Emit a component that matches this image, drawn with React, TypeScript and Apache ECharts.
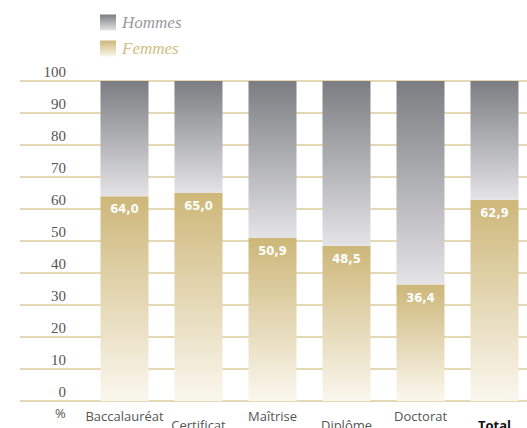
import React, { useEffect, useRef } from "react";
import * as echarts from "echarts";

const categories = ["Baccalauréat", "Certificat", "Maîtrise", "Diplôme", "Doctorat", "Total"];
const femmes = [64.0, 65.0, 50.9, 48.5, 36.4, 62.9];
const hommes = femmes.map((v) => +(100 - v).toFixed(1));
const yTicks = [0, 10, 20, 30, 40, 50, 60, 70, 80, 90, 100];

const hommesGrad = new echarts.graphic.LinearGradient(0, 0, 0, 1, [
  { offset: 0, color: "#7c7d82" },
  { offset: 1, color: "#e4e4e7" },
]);
const femmesGrad = new echarts.graphic.LinearGradient(0, 0, 0, 1, [
  { offset: 0, color: "#cdb779" },
  { offset: 1, color: "#faf7ee" },
]);

export default function App() {
  const ref = useRef<HTMLDivElement>(null);
  useEffect(() => {
    if (!ref.current) return;
    const chart = echarts.init(ref.current, null, { renderer: "svg" });
    chart.setOption({
      animation: false,
      legend: {
        orient: "vertical",
        left: 95,
        top: 9,
        itemWidth: 16,
        itemHeight: 16,
        itemGap: 9,
        icon: "rect",
        data: [
          { name: "Hommes", textStyle: { color: "#9a9a9e" } },
          { name: "Femmes", textStyle: { color: "#d2bd83" } },
        ],
        textStyle: {
          fontFamily: "Liberation Serif",
          fontStyle: "italic",
          fontSize: 17,
          padding: [0, 0, 0, 1],
        },
      },
      grid: [
        { left: 20, right: 0, top: 81, bottom: 27, outerBoundsMode: "none", containLabel: false },
        { left: 87.5, right: -4.5, top: 81, bottom: 27, outerBoundsMode: "none", containLabel: false },
      ],
      xAxis: [
        { type: "value", gridIndex: 0, show: false, min: 0, max: 1 },
        {
          type: "category",
          gridIndex: 1,
          data: categories,
          axisLine: { show: false },
          axisTick: { show: false },
          axisLabel: {
            interval: 0,
            margin: 8,
            formatter: (v: string, i: number) =>
              v === "Total" ? `{t|${v}}` : i % 2 === 1 ? `{b|${v}}` : `{a|${v}}`,
            rich: {
              a: { fontFamily: "Open Sans", fontSize: 13, color: "#555", padding: [0, 0, 0, 0] },
              b: { fontFamily: "Open Sans", fontSize: 13, color: "#555", padding: [9, 0, 0, 0] },
              t: { fontFamily: "Open Sans", fontSize: 13, fontWeight: "bold", color: "#111", padding: [9, 0, 0, 0] },
            },
          },
        },
      ],
      yAxis: [
        {
          type: "value",
          gridIndex: 0,
          min: yTicks[0],
          max: yTicks[yTicks.length - 1],
          interval: 10,
          axisLine: { show: false },
          axisTick: { show: false },
          splitLine: { lineStyle: { color: "#e4d9b4", width: 2 } },
          axisLabel: {
            inside: true,
            align: "right",
            margin: 46,
            verticalAlign: "bottom",
            padding: [0, 0, 2, 0],
            fontFamily: "Liberation Serif",
            fontSize: 15,
            color: "#555",
          },
        },
        {
          type: "value",
          gridIndex: 1,
          min: 0,
          max: 100,
          interval: 10,
          show: false,
        },
      ],
      graphic: [
        {
          type: "text",
          left: 55,
          top: 406,
          style: { text: "%", fontFamily: "Open Sans", fontSize: 13, fill: "#555" },
        },
      ],
      series: [
        {
          name: "Femmes",
          type: "bar",
          stack: "s",
          xAxisIndex: 1,
          yAxisIndex: 1,
          data: femmes,
          barWidth: 48,
          itemStyle: { color: femmesGrad },
          label: {
            show: true,
            position: "insideTop",
            distance: 7,
            formatter: (p: any) => p.value.toFixed(1).replace(".", ","),
            color: "#fff",
            fontFamily: "DejaVu Sans",
            fontWeight: "bold",
            fontSize: 11.5,
          },
        },
        {
          name: "Hommes",
          type: "bar",
          stack: "s",
          xAxisIndex: 1,
          yAxisIndex: 1,
          data: hommes,
          barWidth: 48,
          itemStyle: { color: hommesGrad },
        },
      ],
    });
    return () => chart.dispose();
  }, []);
  return <div ref={ref} style={{ width: 527, height: 428, position: "absolute", left: 0, top: 0 }} />;
}
